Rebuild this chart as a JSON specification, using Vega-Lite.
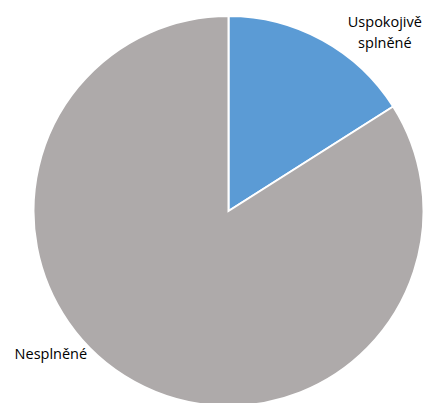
{
  "$schema": "https://vega.github.io/schema/vega-lite/v6.json",
  "width": 400,
  "height": 400,
  "autosize": "none",
  "padding": {"left": 28.5, "top": 11, "right": 0, "bottom": 0},
  "background": "white",
  "config": {"view": {"stroke": null}},
  "data": {
    "values": [
      {"category": "Uspokojivě splněné", "value": 16, "order": 1},
      {"category": "Nesplněné", "value": 84, "order": 2}
    ]
  },
  "encoding": {
    "theta": {"field": "value", "type": "quantitative", "stack": true},
    "order": {"field": "order", "type": "quantitative"}
  },
  "layer": [
    {
      "mark": {"type": "arc", "outerRadius": 195, "stroke": "white", "strokeWidth": 2},
      "encoding": {
        "color": {
          "field": "category",
          "type": "nominal",
          "scale": {"domain": ["Uspokojivě splněné", "Nesplněné"], "range": ["#5B9BD5", "#AEAAAA"]},
          "legend": null
        }
      }
    },
    {
      "transform": [{"filter": "datum.order == 1"}],
      "mark": {"type": "text", "radius": 200, "dx": 60, "dy": -13, "font": "Open Sans", "fontSize": 14.5, "lineBreak": " ", "lineHeight": 21, "align": "center", "baseline": "middle", "color": "#000000"},
      "encoding": {"text": {"field": "category"}}
    },
    {
      "transform": [{"filter": "datum.order == 2"}],
      "mark": {"type": "text", "radius": 200, "dx": -274, "dy": -31, "font": "Open Sans", "fontSize": 14.5, "align": "center", "baseline": "middle", "color": "#000000"},
      "encoding": {"text": {"field": "category"}}
    }
  ]
}
